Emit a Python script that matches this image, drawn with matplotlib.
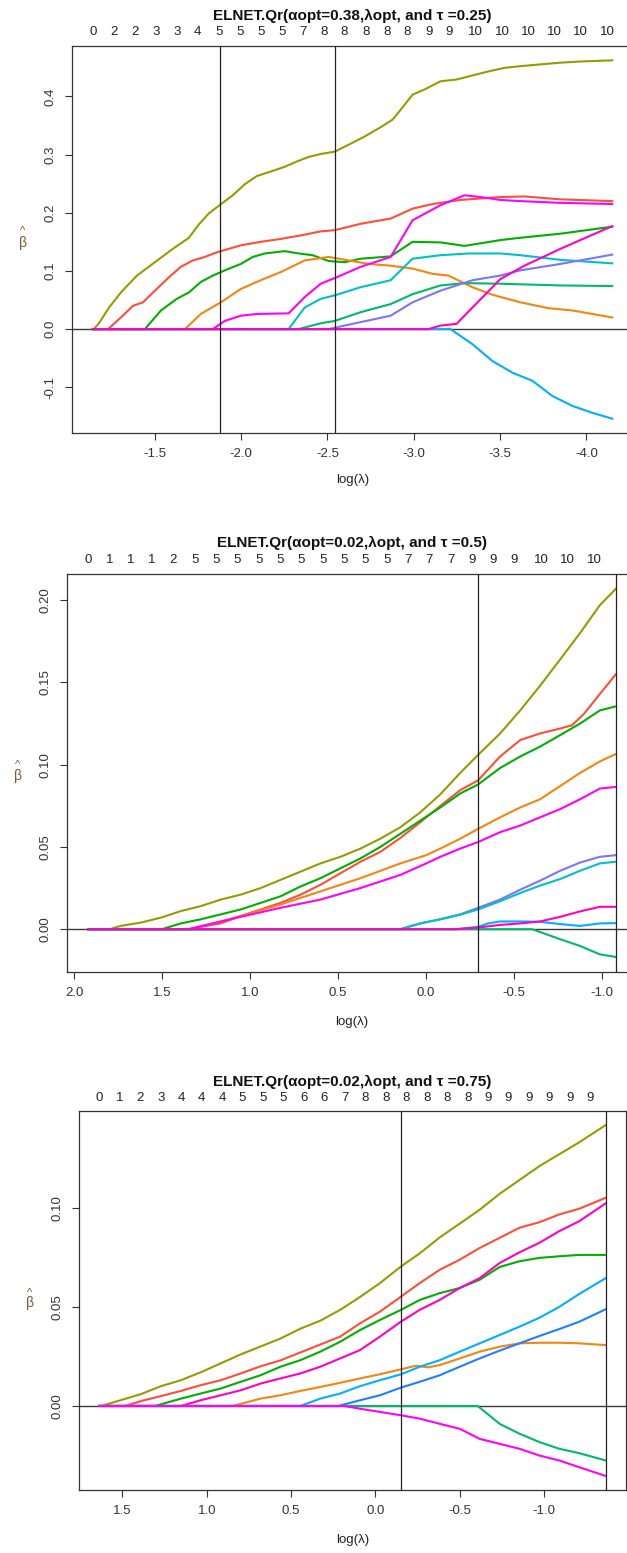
import matplotlib
matplotlib.use("Agg")
import matplotlib.pyplot as plt
import matplotlib.transforms as mtransforms

plt.rcParams['font.family'] = ['Liberation Sans', 'DejaVu Sans']
plt.rcParams['axes.unicode_minus'] = False

# colours of the coefficient paths (hcl hue wheel)
RED = "#FF4E37"
ORANGE = "#F58410"
OLIVE = "#979B00"
GREEN = "#00AF00"
TEAL = "#00BA6A"
CYAN = "#00C1C8"
SKY = "#00AFFF"
BLUE = "#1F80FF"
LAV = "#7E73FF"
MAG = "#FF00FF"
PINK = "#FF00C8"

# ---------------- panel 1 : alpha=0.38, tau=0.25 ----------------
p1_lam = [-1.14, -4.15]
p1_opt = [-1.875, -2.542]
p1_df_pos = [-1.140, -1.262, -1.383, -1.505, -1.626, -1.748, -1.870, -1.991, -2.113, -2.235,
             -2.356, -2.478, -2.599, -2.721, -2.843, -2.964, -3.086, -3.207, -3.359, -3.512,
             -3.664, -3.816, -3.968, -4.120]
p1_df_lab = ['0', '2', '2', '3', '3', '4', '5', '5', '5', '5', '7', '8', '8', '8', '8', '8',
             '9', '9', '10', '10', '10', '10', '10', '10']

p1_olive_x = [-1.146, -1.176, -1.234, -1.303, -1.396, -1.500, -1.604, -1.697, -1.755, -1.813,
              -1.875, -1.951, -2.021, -2.090, -2.183, -2.252, -2.322, -2.391, -2.461, -2.542,
              -2.623, -2.715, -2.808, -2.877, -2.924, -2.993, -3.063, -3.155, -3.248, -3.340,
              -3.433, -3.525, -3.618, -3.734, -3.850, -3.965, -4.150]
p1_olive_y = [0, 0.010, 0.037, 0.063, 0.092, 0.115, 0.138, 0.157, 0.180, 0.199,
              0.213, 0.230, 0.249, 0.263, 0.272, 0.279, 0.288, 0.296, 0.301, 0.305,
              0.317, 0.331, 0.347, 0.360, 0.377, 0.403, 0.412, 0.426, 0.429, 0.436,
              0.443, 0.449, 0.452, 0.455, 0.458, 0.460, 0.462]
p1_red_x = [-1.229, -1.303, -1.373, -1.431, -1.500, -1.581, -1.650, -1.720, -1.789, -1.859,
            -1.998, -2.113, -2.229, -2.345, -2.461, -2.542, -2.692, -2.866, -2.993, -3.109,
            -3.271, -3.502, -3.641, -3.850, -4.150]
p1_red_y = [0, 0.020, 0.040, 0.046, 0.066, 0.089, 0.107, 0.118, 0.124, 0.132,
            0.144, 0.150, 0.155, 0.161, 0.168, 0.170, 0.181, 0.190, 0.207, 0.215,
            0.222, 0.227, 0.228, 0.223, 0.220]
p1_green_x = [-1.442, -1.535, -1.627, -1.697, -1.766, -1.836, -1.905, -1.998, -2.067, -2.137,
              -2.252, -2.333, -2.414, -2.507, -2.600, -2.692, -2.866, -2.993, -3.155, -3.294,
              -3.502, -3.618, -3.850, -4.150]
p1_green_y = [0, 0.032, 0.052, 0.063, 0.081, 0.092, 0.101, 0.112, 0.124, 0.130,
              0.134, 0.130, 0.127, 0.117, 0.115, 0.121, 0.125, 0.150, 0.149, 0.143,
              0.153, 0.157, 0.164, 0.176]
p1_orange_x = [-1.674, -1.766, -1.882, -1.998, -2.113, -2.229, -2.368, -2.507, -2.623, -2.738,
               -2.866, -2.993, -3.109, -3.201, -3.340, -3.456, -3.618, -3.780, -3.919, -4.150]
p1_orange_y = [0, 0.026, 0.046, 0.069, 0.084, 0.098, 0.118, 0.124, 0.118, 0.112,
               0.109, 0.104, 0.095, 0.092, 0.072, 0.059, 0.046, 0.036, 0.032, 0.020]
p1_mag_x = [-1.836, -1.905, -1.998, -2.090, -2.275, -2.368, -2.461, -2.553, -2.692, -2.866,
            -2.993, -3.155, -3.294, -3.387, -3.502, -3.618, -3.850, -4.150]
p1_mag_y = [0, 0.014, 0.023, 0.026, 0.027, 0.055, 0.078, 0.089, 0.107, 0.124,
            0.187, 0.213, 0.230, 0.227, 0.222, 0.220, 0.217, 0.215]
p1_cyan_x = [-2.275, -2.368, -2.461, -2.542, -2.692, -2.866, -2.993, -3.155, -3.317, -3.502,
             -3.618, -3.850, -4.150]
p1_cyan_y = [0, 0.037, 0.052, 0.058, 0.072, 0.084, 0.121, 0.127, 0.130, 0.130,
             0.127, 0.119, 0.113]
p1_teal_x = [-2.333, -2.461, -2.542, -2.692, -2.866, -2.993, -3.155, -3.294, -3.502, -3.618,
             -3.850, -4.150]
p1_teal_y = [0, 0.010, 0.014, 0.029, 0.043, 0.060, 0.075, 0.079, 0.078, 0.077, 0.075, 0.074]
p1_lav_x = [-2.507, -2.692, -2.866, -2.993, -3.155, -3.340, -3.502, -3.618, -3.850, -4.150]
p1_lav_y = [0, 0.012, 0.023, 0.046, 0.066, 0.084, 0.092, 0.101, 0.112, 0.128]
p1_sky_x = [-3.213, -3.340, -3.456, -3.572, -3.688, -3.803, -3.919, -4.035, -4.150]
p1_sky_y = [0, -0.026, -0.055, -0.075, -0.089, -0.115, -0.132, -0.144, -0.154]
p1_pink_x = [-3.086, -3.155, -3.248, -3.340, -3.502, -3.641, -3.757, -3.850, -3.965, -4.150]
p1_pink_y = [0, 0.006, 0.009, 0.037, 0.086, 0.109, 0.125, 0.138, 0.153, 0.177]

# ---------------- panel 2 : alpha=0.02, tau=0.5 ----------------
p2_lam = [1.921, -1.079]
p2_opt = [-0.296, -1.079]
p2_df_pos = [1.921, 1.800, 1.679, 1.557, 1.436, 1.315, 1.194, 1.073, 0.951, 0.830,
             0.709, 0.588, 0.466, 0.345, 0.224, 0.103, -0.018, -0.140, -0.261, -0.382,
             -0.503, -0.655, -0.806, -0.958]
p2_df_lab = ['0', '1', '1', '1', '2', '5', '5', '5', '5', '5', '5', '5', '5', '5', '5',
             '7', '7', '7', '9', '9', '9', '10', '10', '10']

p2_olive_x = [1.798, 1.735, 1.621, 1.508, 1.394, 1.281, 1.167, 1.054, 0.940, 0.827,
              0.713, 0.600, 0.487, 0.373, 0.260, 0.146, 0.033, -0.081, -0.194, -0.296,
              -0.421, -0.535, -0.648, -0.762, -0.875, -0.988, -1.079]
p2_olive_y = [0, 0.002, 0.004, 0.007, 0.011, 0.014, 0.018, 0.021, 0.025, 0.030,
              0.035, 0.040, 0.044, 0.049, 0.055, 0.062, 0.071, 0.082, 0.095, 0.106,
              0.119, 0.133, 0.148, 0.164, 0.180, 0.197, 0.207]
p2_green_x = [1.501, 1.394, 1.281, 1.167, 1.054, 0.940, 0.827, 0.713, 0.600, 0.487,
              0.373, 0.260, 0.146, 0.033, -0.081, -0.194, -0.296, -0.421, -0.535, -0.648,
              -0.762, -0.875, -0.988, -1.079]
p2_green_y = [0, 0.0035, 0.006, 0.009, 0.012, 0.016, 0.020, 0.026, 0.031, 0.037,
              0.043, 0.050, 0.058, 0.066, 0.074, 0.0825, 0.088, 0.098, 0.105, 0.111,
              0.118, 0.125, 0.133, 0.1355]
p2_red_x = [1.349, 1.281, 1.167, 1.054, 0.940, 0.827, 0.713, 0.600, 0.487, 0.373,
            0.260, 0.146, 0.033, -0.081, -0.194, -0.296, -0.421, -0.535, -0.648, -0.762,
            -0.830, -0.898, -0.988, -1.079]
p2_red_y = [0, 0.0014, 0.0035, 0.008, 0.012, 0.016, 0.021, 0.027, 0.034, 0.041,
            0.047, 0.0555, 0.065, 0.075, 0.0845, 0.0905, 0.105, 0.115, 0.119, 0.122,
            0.124, 0.131, 0.143, 0.155]
p2_orange_x = [1.349, 1.167, 1.054, 0.827, 0.600, 0.373, 0.146, -0.001, -0.081, -0.194,
               -0.296, -0.421, -0.535, -0.648, -0.762, -0.875, -0.988, -1.079]
p2_orange_y = [0, 0.0047, 0.008, 0.015, 0.023, 0.031, 0.040, 0.045, 0.049, 0.055,
               0.061, 0.068, 0.074, 0.079, 0.087, 0.095, 0.102, 0.1065]
p2_mag_x = [1.349, 1.054, 0.827, 0.600, 0.373, 0.146, -0.001, -0.081, -0.194, -0.296,
            -0.421, -0.535, -0.648, -0.762, -0.875, -0.988, -1.079]
p2_mag_y = [0, 0.0075, 0.013, 0.018, 0.025, 0.033, 0.040, 0.044, 0.049, 0.053,
            0.059, 0.063, 0.068, 0.073, 0.079, 0.0855, 0.0865]
p2_lav_x = [0.146, 0.033, -0.081, -0.194, -0.296, -0.421, -0.535, -0.648, -0.762, -0.875,
            -0.988, -1.079]
p2_lav_y = [0, 0.0035, 0.006, 0.009, 0.013, 0.018, 0.024, 0.0295, 0.0355, 0.0405, 0.044, 0.045]
p2_cyan_x = [0.146, 0.033, -0.081, -0.194, -0.296, -0.421, -0.535, -0.648, -0.762, -0.875,
             -0.988, -1.079]
p2_cyan_y = [0, 0.0035, 0.006, 0.0088, 0.012, 0.017, 0.022, 0.0265, 0.0305, 0.0355, 0.040, 0.041]
p2_sky_x = [-0.172, -0.296, -0.353, -0.421, -0.535, -0.648, -0.762, -0.875, -0.988, -1.079]
p2_sky_y = [0, 0.0014, 0.0035, 0.0047, 0.0047, 0.0045, 0.0031, 0.002, 0.0035, 0.0037]
p2_teal_x = [-0.603, -0.762, -0.875, -0.988, -1.079]
p2_teal_y = [0, -0.0061, -0.0102, -0.0153, -0.0169]
p2_pink_x = [-0.172, -0.296, -0.421, -0.535, -0.648, -0.762, -0.875, -0.988, -1.079]
p2_pink_y = [0, 0.001, 0.0026, 0.0035, 0.0047, 0.0075, 0.0108, 0.0136, 0.0136]

# ---------------- panel 3 : alpha=0.02, tau=0.75 ----------------
p3_lam = [1.637, -1.365]
p3_opt = [-0.152, -1.365]
p3_df_pos = [1.637, 1.516, 1.394, 1.273, 1.152, 1.031, 0.909, 0.788, 0.667, 0.545,
             0.424, 0.303, 0.182, 0.060, -0.061, -0.182, -0.304, -0.425, -0.546, -0.668,
             -0.789, -0.910, -1.031, -1.153, -1.274]
p3_df_lab = ['0', '1', '2', '3', '4', '4', '4', '5', '5', '5', '6', '6', '7', '8', '8', '8',
             '8', '8', '8', '9', '9', '9', '9', '9', '9']

p3_olive_x = [1.625, 1.507, 1.389, 1.271, 1.153, 1.035, 0.917, 0.799, 0.681, 0.563,
              0.445, 0.327, 0.209, 0.091, -0.027, -0.152, -0.263, -0.381, -0.500, -0.618,
              -0.736, -0.854, -0.972, -1.090, -1.208, -1.365]
p3_olive_y = [0, 0.003, 0.006, 0.010, 0.013, 0.017, 0.0215, 0.026, 0.030, 0.034,
              0.039, 0.043, 0.0485, 0.055, 0.062, 0.0704, 0.077, 0.085, 0.092, 0.099,
              0.107, 0.114, 0.121, 0.127, 0.133, 0.1417]
p3_red_x = [1.483, 1.389, 1.271, 1.153, 1.035, 0.917, 0.799, 0.681, 0.563, 0.445,
            0.327, 0.209, 0.091, -0.027, -0.152, -0.263, -0.381, -0.500, -0.618, -0.736,
            -0.854, -0.972, -1.090, -1.208, -1.365]
p3_red_y = [0, 0.0025, 0.005, 0.0076, 0.0105, 0.013, 0.0164, 0.020, 0.023, 0.027,
            0.031, 0.035, 0.0417, 0.0476, 0.0552, 0.062, 0.0687, 0.0738, 0.0797, 0.0848,
            0.0899, 0.0927, 0.0966, 0.0995, 0.105]
p3_green_x = [1.306, 1.153, 1.035, 0.917, 0.799, 0.681, 0.563, 0.445, 0.327, 0.209,
              0.091, -0.027, -0.152, -0.263, -0.381, -0.500, -0.618, -0.736, -0.854, -0.972,
              -1.090, -1.208, -1.365]
p3_green_y = [0, 0.0037, 0.0063, 0.0088, 0.0122, 0.0155, 0.0198, 0.0231, 0.0274, 0.0324,
              0.0383, 0.0434, 0.0485, 0.0535, 0.0569, 0.0595, 0.0637, 0.0701, 0.073, 0.0747,
              0.0755, 0.0762, 0.0762]
p3_pink_x = [1.153, 1.035, 0.917, 0.799, 0.681, 0.563, 0.445, 0.327, 0.209, 0.091,
             -0.027, -0.152, -0.263, -0.381, -0.500, -0.618, -0.736, -0.854, -0.972, -1.090,
             -1.208, -1.365]
p3_pink_y = [0, 0.0029, 0.0054, 0.0079, 0.0113, 0.0139, 0.0164, 0.0198, 0.024, 0.0282,
             0.035, 0.0426, 0.0485, 0.0535, 0.0595, 0.0645, 0.0721, 0.0775, 0.0823, 0.0882,
             0.0932, 0.1022]
p3_orange_x = [0.846, 0.681, 0.563, 0.445, 0.327, 0.209, 0.091, -0.027, -0.152, -0.240,
               -0.311, -0.381, -0.500, -0.618, -0.736, -0.854, -0.972, -1.090, -1.208, -1.365]
p3_orange_y = [0, 0.0037, 0.0054, 0.0076, 0.0096, 0.0117, 0.0139, 0.016, 0.0185, 0.0203,
               0.0195, 0.0206, 0.024, 0.0274, 0.0299, 0.0316, 0.0319, 0.0319, 0.0316, 0.0307]
p3_sky_x = [0.445, 0.327, 0.209, 0.091, -0.027, -0.152, -0.263, -0.381, -0.500, -0.618,
            -0.736, -0.854, -0.972, -1.090, -1.208, -1.365]
p3_sky_y = [0, 0.0037, 0.0063, 0.010, 0.013, 0.016, 0.0198, 0.0231, 0.0274, 0.0316,
            0.0358, 0.040, 0.0445, 0.050, 0.0565, 0.0645]
p3_blue_x = [0.221, 0.091, -0.027, -0.152, -0.263, -0.381, -0.500, -0.618, -0.736, -0.854,
             -0.972, -1.090, -1.208, -1.365]
p3_blue_y = [0, 0.0029, 0.0054, 0.0093, 0.0122, 0.0155, 0.0198, 0.024, 0.0279, 0.0316,
             0.0353, 0.0388, 0.0425, 0.0488]
p3_teal_x = [-0.606, -0.736, -0.854, -0.972, -1.090, -1.208, -1.365]
p3_teal_y = [0, -0.009, -0.014, -0.0182, -0.0216, -0.0238, -0.0275]
p3_mag_x = [0.185, 0.091, -0.027, -0.152, -0.263, -0.381, -0.500, -0.618, -0.736, -0.854,
            -0.972, -1.090, -1.208, -1.365]
p3_mag_y = [0, -0.0014, -0.003, -0.0047, -0.0064, -0.009, -0.0115, -0.0166, -0.0191, -0.0216,
            -0.025, -0.0275, -0.0309, -0.0353]

H = 1553.0
W = 627.0
fig = plt.figure(figsize=(W / 100, H / 100), dpi=100)


def panel(box, lam, curves, opt, df_pos, df_lab, title, title_y, df_y, xlab_y,
          xticks, yticks, yfmt):
    # box is left, top, right, bottom in pixels of the page
    l, t, r, b = box
    ax = fig.add_axes([l / W, 1 - b / H, (r - l) / W, (b - t) / H])
    hi, lo = lam[0], lam[1]
    pad = 0.04 * (hi - lo)
    ax.set_xlim(hi + pad, lo - pad)
    ys = [v for c in curves for v in c[1]]
    ypad = 0.04 * (max(ys) - min(ys))
    ax.set_ylim(min(ys) - ypad, max(ys) + ypad)

    ax.axhline(0, color="#3a3a3a", lw=1.0, zorder=1)
    for xs, yv, col in curves:
        # every path sits at zero from the first lambda on
        ax.plot([hi] + xs, [0] + yv, color=col, lw=1.5, zorder=2)
    for v in opt:
        ax.axvline(v, color="#222222", lw=0.9, zorder=3)

    ax.set_xticks(xticks)
    ax.set_xticklabels(["%.1f" % v for v in xticks])
    ax.set_yticks(yticks)
    ax.set_yticklabels([yfmt % v for v in yticks], rotation=90, va="center")
    ax.tick_params(direction="out", length=5, width=0.8, colors="#333333",
                   labelsize=9.5, pad=6)
    for s in ax.spines.values():
        s.set_linewidth(0.9)
        s.set_color("#333333")

    tr = mtransforms.blended_transform_factory(ax.transData, fig.transFigure)
    for p, s in zip(df_pos, df_lab):
        ax.text(p, 1 - df_y / H, s, transform=tr, ha="center", va="center",
                fontsize=9.5, color="#222222", clip_on=False)
    cx = (l + r) / 2 / W
    fig.text(cx, 1 - title_y / H, title, ha="center", va="center",
             fontsize=11, fontweight="bold", color="#111111")
    fig.text(cx, 1 - xlab_y / H, "log(λ)", ha="center", va="center",
             fontsize=9.5, color="#222222")
    # beta-hat as an upright label left of the tick numbers
    ax.annotate("β", xy=(0, 0.5), xycoords="axes fraction",
                xytext=(-49, -3), textcoords="offset pixels", ha="center",
                va="center", fontsize=10, color="#7a5a30")
    ax.annotate("^", xy=(0, 0.5), xycoords="axes fraction",
                xytext=(-49, 8), textcoords="offset pixels", ha="center",
                va="center", fontsize=8, color="#7a5a30")
    return ax


panel((72, 46, 633, 433), p1_lam,
      [(p1_olive_x, p1_olive_y, OLIVE), (p1_red_x, p1_red_y, RED),
       (p1_green_x, p1_green_y, GREEN), (p1_orange_x, p1_orange_y, ORANGE),
       (p1_cyan_x, p1_cyan_y, CYAN), (p1_teal_x, p1_teal_y, TEAL),
       (p1_lav_x, p1_lav_y, LAV), (p1_mag_x, p1_mag_y, MAG),
       (p1_sky_x, p1_sky_y, SKY), (p1_pink_x, p1_pink_y, PINK)],
      p1_opt, p1_df_pos, p1_df_lab,
      "ELNET.Qr(αopt=0.38,λopt, and τ =0.25)", 16, 32, 480,
      [-1.5, -2.0, -2.5, -3.0, -3.5, -4.0], [-0.1, 0.0, 0.1, 0.2, 0.3, 0.4], "%.1f")

panel((67, 574, 637, 971.7), p2_lam,
      [(p2_olive_x, p2_olive_y, OLIVE), (p2_red_x, p2_red_y, RED),
       (p2_green_x, p2_green_y, GREEN), (p2_orange_x, p2_orange_y, ORANGE),
       (p2_mag_x, p2_mag_y, MAG), (p2_lav_x, p2_lav_y, LAV),
       (p2_cyan_x, p2_cyan_y, CYAN), (p2_sky_x, p2_sky_y, SKY),
       (p2_teal_x, p2_teal_y, TEAL), (p2_pink_x, p2_pink_y, PINK)],
      p2_opt, p2_df_pos, p2_df_lab,
      "ELNET.Qr(αopt=0.02,λopt, and τ =0.5)", 543, 560, 1022,
      [2.0, 1.5, 1.0, 0.5, 0.0, -0.5, -1.0], [0.0, 0.05, 0.10, 0.15, 0.20], "%.2f")

panel((79, 1111, 626, 1490), p3_lam,
      [(p3_olive_x, p3_olive_y, OLIVE), (p3_red_x, p3_red_y, RED),
       (p3_green_x, p3_green_y, GREEN), (p3_pink_x, p3_pink_y, PINK),
       (p3_orange_x, p3_orange_y, ORANGE), (p3_sky_x, p3_sky_y, SKY),
       (p3_blue_x, p3_blue_y, BLUE), (p3_teal_x, p3_teal_y, TEAL),
       (p3_mag_x, p3_mag_y, MAG)],
      p3_opt, p3_df_pos, p3_df_lab,
      "ELNET.Qr(αopt=0.02,λopt, and τ =0.75)", 1082, 1098, 1540,
      [1.5, 1.0, 0.5, 0.0, -0.5, -1.0], [0.0, 0.05, 0.10], "%.2f")

fig.savefig("out.png", dpi=100)
